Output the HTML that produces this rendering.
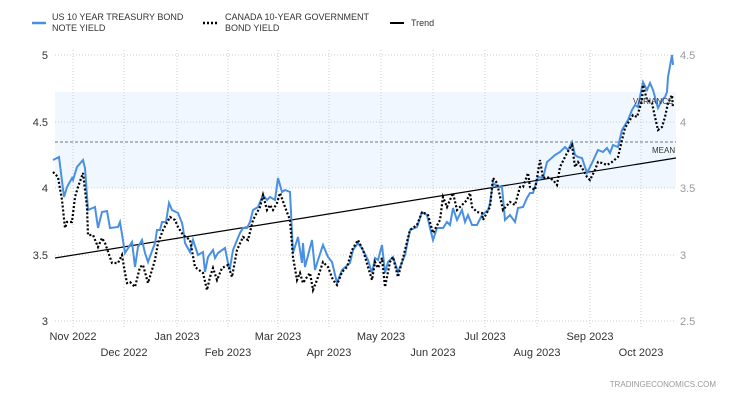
<!DOCTYPE html><html><head><style>body{margin:0;background:#fff}svg{display:block;font-family:"Liberation Sans",Arial,sans-serif}</style></head><body>
<svg width="730" height="400" viewBox="0 0 730 400">
<rect x="55" y="92" width="621" height="96" fill="#f0f7fe"/>
<g stroke="#ccc" stroke-dasharray="1,2" stroke-width="1">
<line x1="55" y1="55" x2="676" y2="55"/><line x1="55" y1="122" x2="676" y2="122"/><line x1="55" y1="188" x2="676" y2="188"/><line x1="55" y1="255" x2="676" y2="255"/><line x1="55" y1="321" x2="676" y2="321"/>
<line x1="73" y1="50" x2="73" y2="328"/><line x1="124" y1="50" x2="124" y2="328"/><line x1="177" y1="50" x2="177" y2="328"/><line x1="228" y1="50" x2="228" y2="328"/><line x1="278" y1="50" x2="278" y2="328"/><line x1="329" y1="50" x2="329" y2="328"/><line x1="381" y1="50" x2="381" y2="328"/><line x1="433" y1="50" x2="433" y2="328"/><line x1="485" y1="50" x2="485" y2="328"/><line x1="537" y1="50" x2="537" y2="328"/><line x1="590" y1="50" x2="590" y2="328"/><line x1="641" y1="50" x2="641" y2="328"/>
</g>
<line x1="55" y1="142" x2="676" y2="142" stroke="#777" stroke-dasharray="3,2"/>
<line x1="55" y1="258" x2="676" y2="158" stroke="#000" stroke-width="1.2"/>
<polyline fill="none" stroke="#4a90e2" stroke-width="2" points="53,160 59,157 64,197 67,187 72,178 73,180 77,167 83,160 85,168 88,210 95,207 98,228 102,212 107,211 110,228 118,227 120,222 125,253 132,242 135,267 138,247 142,240 145,253 148,262 155,243 157,230 160,230 162,222 166,222 169,203 172,210 178,213 182,223 183,228 185,243 190,252 193,240 198,255 203,252 205,272 208,257 213,250 215,258 218,253 225,248 228,263 230,268 233,250 240,233 243,228 247,228 250,222 253,210 258,207 263,195 267,200 270,197 275,200 278,178 282,192 285,190 290,192 293,253 298,237 302,263 303,243 305,267 312,240 315,270 318,260 323,245 328,257 332,262 337,283 342,270 350,263 353,250 358,243 363,250 368,260 372,273 375,258 378,260 382,245 385,273 388,262 393,257 398,272 405,255 410,230 417,227 422,212 427,215 430,228 433,240 437,228 443,228 447,222 450,225 453,208 457,220 462,210 465,222 468,215 472,225 477,225 482,215 488,210 490,203 493,183 498,187 502,187 505,220 510,215 515,222 518,208 523,207 527,198 530,193 533,193 538,177 543,178 547,162 555,155 560,152 565,147 568,150 572,142 575,155 578,157 582,158 587,173 592,163 598,150 603,152 607,148 610,153 613,145 618,147 622,130 625,125 628,120 632,110 635,105 638,107 643,82 647,90 650,83 653,90 658,108 662,100 665,97 667,92 668,77 672,55 673,65"/>
<polyline fill="none" stroke="#000" stroke-width="2.2" stroke-dasharray="2,2" points="53,172 58,177 62,200 65,228 67,222 72,222 75,197 78,187 83,173 87,207 88,235 93,235 98,247 102,238 105,243 112,263 118,263 122,255 125,273 127,283 130,282 135,287 140,267 143,265 148,283 155,260 158,243 163,230 170,217 175,220 178,227 183,235 190,240 195,267 203,273 207,290 210,277 213,268 217,280 222,268 228,265 232,277 237,250 243,237 248,240 253,220 260,207 263,195 267,210 270,205 273,210 277,203 280,193 285,207 290,220 293,257 297,280 300,273 303,283 307,277 310,273 313,290 317,280 323,262 328,267 333,280 337,285 342,272 347,267 352,250 358,240 363,250 368,267 372,280 375,262 378,268 382,258 385,287 390,262 393,257 398,277 403,258 410,230 417,225 422,212 428,215 433,233 440,220 443,197 447,207 453,193 457,210 462,205 467,200 470,193 472,207 477,212 482,213 483,220 490,207 493,178 497,183 503,210 510,202 515,205 520,187 523,187 528,173 530,187 535,190 540,160 543,178 547,177 553,180 557,185 560,167 567,153 572,145 575,167 578,162 582,168 587,177 590,180 595,170 598,162 602,163 607,165 612,162 618,157 622,140 625,128 628,123 633,115 637,117 642,100 643,85 647,100 652,103 655,117 658,130 662,127 665,117 668,103 672,95 673,108"/>
<g font-size="11" fill="#333" text-anchor="end"><text x="48" y="59">5</text><text x="48" y="126">4.5</text><text x="48" y="192">4</text><text x="48" y="259">3.5</text><text x="48" y="325">3</text></g>
<g font-size="11" fill="#999"><text x="680" y="59">4.5</text><text x="680" y="126">4</text><text x="680" y="192">3.5</text><text x="680" y="259">3</text><text x="680" y="325">2.5</text></g>
<g font-size="11" fill="#333" text-anchor="middle"><text x="73" y="340">Nov 2022</text><text x="177" y="340">Jan 2023</text><text x="278" y="340">Mar 2023</text><text x="381" y="340">May 2023</text><text x="485" y="340">Jul 2023</text><text x="590" y="340">Sep 2023</text>
<text x="124" y="356">Dec 2022</text><text x="228" y="356">Feb 2023</text><text x="329" y="356">Apr 2023</text><text x="433" y="356">Jun 2023</text><text x="537" y="356">Aug 2023</text><text x="641" y="356">Oct 2023</text></g>
<g font-size="8" fill="#333"><text x="633" y="104">VARIANCE</text><text x="652" y="153">MEAN</text></g>
<text x="716" y="387" font-size="8" fill="#999" text-anchor="end">TRADINGECONOMICS.COM</text>
<line x1="32" y1="23" x2="46" y2="23" stroke="#4a90e2" stroke-width="2.5"/>
<line x1="203" y1="23" x2="217" y2="23" stroke="#000" stroke-width="2.5" stroke-dasharray="2,2"/>
<line x1="390" y1="23" x2="404" y2="23" stroke="#000" stroke-width="2"/>
<g font-size="9" fill="#333"><text x="52" y="20">US 10 YEAR TREASURY BOND</text><text x="52" y="31">NOTE YIELD</text><text x="225" y="20">CANADA 10-YEAR GOVERNMENT</text><text x="225" y="31">BOND YIELD</text><text x="411" y="26">Trend</text></g>
</svg></body></html>
